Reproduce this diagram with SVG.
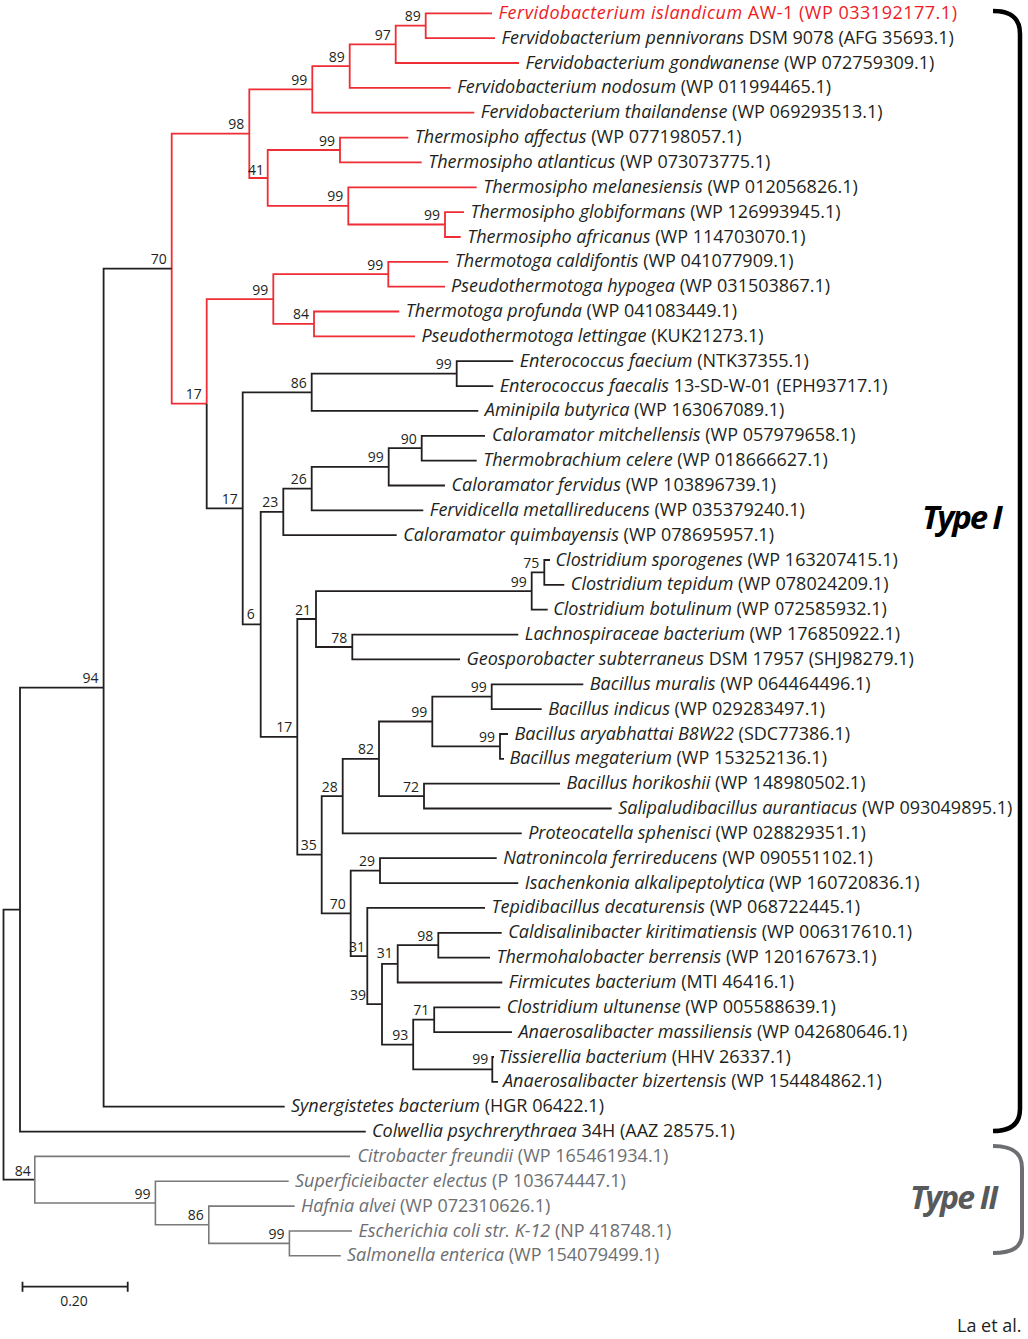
<svg xmlns="http://www.w3.org/2000/svg" width="1028" height="1339" viewBox="0 0 1028 1339">
<style>
text{font-family:"Open Sans","Liberation Sans",sans-serif}
.b{fill:none;stroke:#231f20;stroke-width:1.8}
.r{fill:none;stroke:#ee2d35;stroke-width:1.8}
.g{fill:none;stroke:#7a7a7a;stroke-width:1.6}
.lf{font-size:18px;fill:#231f20}
.lr{fill:#ed1c24}
.lg{fill:#6d6e71}
.i{font-style:italic}
.bs{font-size:14px;fill:#231f20;text-anchor:end}
.ty{font-weight:bold;font-style:italic}
</style>
<rect width="1028" height="1339" fill="#fff"/>
<g id="connectors">
<path class="r" d="M492,13.3H425.7V38.2H495"/>
<path class="r" d="M425.7,25.7H395.7V63H519"/>
<path class="r" d="M395.7,44.4H349.7V87.9H450.7"/>
<path class="r" d="M349.7,66.1H312.3V112.7H474.3"/>
<path class="r" d="M408.3,137.6H340V162.4H421.7"/>
<path class="r" d="M464,212.1H445V237H460.7"/>
<path class="r" d="M476.7,187.3H348.3V224.5H445"/>
<path class="r" d="M340,150H267.7V205.9H348.3"/>
<path class="r" d="M312.3,89.4H249.3V178H267.7"/>
<path class="r" d="M448.3,261.8H388.3V286.7H445"/>
<path class="r" d="M399.3,311.5H314V336.4H415"/>
<path class="r" d="M388.3,274.2H273.3V323.9H314"/>
<path class="r" d="M249.3,133.7H171.7V403.7H206.7"/>
<path class="r" d="M273.3,299.1H206.7V403.7"/>
<path class="b" d="M206.7,403.7V508.3H242.7"/>
<path class="b" d="M513.3,361.2H456.7V386.1H493.3"/>
<path class="b" d="M456.7,373.6H311.7V410.9H478.3"/>
<path class="b" d="M311.7,392.3H242.7V624.4H260.7"/>
<path class="b" d="M485,435.8H421.7V460.6H476.7"/>
<path class="b" d="M421.7,448.2H388.7V485.5H445"/>
<path class="b" d="M388.7,466.8H311.7V510.3H423.3"/>
<path class="b" d="M311.7,488.6H283.3V535.2H396.7"/>
<path class="b" d="M283.3,511.9H260.7V736.9H297.3"/>
<path class="b" d="M550,560H544.3V584.9H564.3"/>
<path class="b" d="M544.3,572.4H531.7V609.7H547.7"/>
<path class="b" d="M518.3,634.6H352.3V659.4H460"/>
<path class="b" d="M531.7,591.1H316V647H352.3"/>
<path class="b" d="M316,619H297.3V854.7H321.7"/>
<path class="b" d="M583.3,684.3H491.7V709.1H541.7"/>
<path class="b" d="M508,734H500V758.8H504"/>
<path class="b" d="M491.7,696.7H432.3V746.4H500"/>
<path class="b" d="M560,783.7H424V808.5H611.7"/>
<path class="b" d="M432.3,721.5H379V796.1H424"/>
<path class="b" d="M379,758.8H342.7V833.4H521.7"/>
<path class="b" d="M496.7,858.2H380V883.1H518.3"/>
<path class="b" d="M501.7,932.8H438.3V957.6H490"/>
<path class="b" d="M438.3,945.2H397.7V982.5H502.3"/>
<path class="b" d="M500.2,1007.3H434.2V1032.2H512"/>
<path class="b" d="M494,1057H492.3V1081.9H498"/>
<path class="b" d="M434.2,1019.7H413.2V1069.4H492.3"/>
<path class="b" d="M397.7,963.8H382V1044.6H413.2"/>
<path class="b" d="M485,907.9H367.3V1004.2H382"/>
<path class="b" d="M380,870.6H350.7V956.1H367.3"/>
<path class="b" d="M342.7,796.1H321.7V913.3H350.7"/>
<path class="b" d="M171.7,268.7H103.6V1106.7H284.7"/>
<path class="b" d="M103.6,687.7H20V1131.6H365.8"/>
<path class="b" d="M20,909.6H3.5V1179.7H34.8"/>
<path class="g" d="M352,1231H289.4V1255.8H340.8"/>
<path class="g" d="M294.6,1206.1H208.8V1243.4H289.4"/>
<path class="g" d="M288.7,1181.3H155.4V1224.7H208.8"/>
<path class="g" d="M350,1156.4H34.8V1203H155.4"/>
</g>
<g id="bootstrap">
<text class="bs" x="420.7" y="21.2">89</text>
<text class="bs" x="390.7" y="39.9">97</text>
<text class="bs" x="344.7" y="61.6">89</text>
<text class="bs" x="307.3" y="84.9">99</text>
<text class="bs" x="244.3" y="129.2">98</text>
<text class="bs" x="335" y="145.5">99</text>
<text class="bs" x="264" y="174.5">41</text>
<text class="bs" x="343.3" y="201.4">99</text>
<text class="bs" x="440" y="220">99</text>
<text class="bs" x="166.7" y="264.2">70</text>
<text class="bs" x="383.3" y="269.7">99</text>
<text class="bs" x="268.3" y="294.6">99</text>
<text class="bs" x="309" y="319.4">84</text>
<text class="bs" x="201.7" y="399.2">17</text>
<text class="bs" x="451.7" y="369.1">99</text>
<text class="bs" x="306.7" y="387.8">86</text>
<text class="bs" x="416.7" y="443.7">90</text>
<text class="bs" x="383.7" y="462.3">99</text>
<text class="bs" x="306.7" y="484.1">26</text>
<text class="bs" x="237.7" y="503.8">17</text>
<text class="bs" x="278.3" y="507.4">23</text>
<text class="bs" x="539.3" y="567.9">75</text>
<text class="bs" x="526.7" y="586.6">99</text>
<text class="bs" x="311" y="614.5">21</text>
<text class="bs" x="254.7" y="618.9">6</text>
<text class="bs" x="347.3" y="642.5">78</text>
<text class="bs" x="486.7" y="692.2">99</text>
<text class="bs" x="427.3" y="717">99</text>
<text class="bs" x="495" y="741.9">99</text>
<text class="bs" x="292.3" y="732.4">17</text>
<text class="bs" x="374" y="754.3">82</text>
<text class="bs" x="337.7" y="791.6">28</text>
<text class="bs" x="419" y="791.6">72</text>
<text class="bs" x="316.7" y="850.2">35</text>
<text class="bs" x="375" y="866.1">29</text>
<text class="bs" x="345.7" y="908.8">70</text>
<text class="bs" x="433.3" y="940.7">98</text>
<text class="bs" x="365" y="952">31</text>
<text class="bs" x="392.7" y="958.3">31</text>
<text class="bs" x="366" y="1000">39</text>
<text class="bs" x="429.2" y="1015.2">71</text>
<text class="bs" x="408.2" y="1040.1">93</text>
<text class="bs" x="488.3" y="1063.9">99</text>
<text class="bs" x="98.6" y="683.2">94</text>
<text class="bs" x="30.8" y="1175.7">84</text>
<text class="bs" x="150.4" y="1198.5">99</text>
<text class="bs" x="203.8" y="1220.2">86</text>
<text class="bs" x="284.4" y="1238.9">99</text>
</g>
<g id="leaves">
<g id="leaf0"><text class="lf lr" x="498.5" y="18.8" letter-spacing="0.5"><tspan class="i">Fervidobacterium islandicum</tspan> AW-1 (WP 033192177.1)</text></g>
<g id="leaf1"><text class="lf" x="501.5" y="43.7"><tspan class="i">Fervidobacterium pennivorans</tspan> DSM 9078 (AFG 35693.1)</text></g>
<g id="leaf2"><text class="lf" x="525.5" y="68.5"><tspan class="i">Fervidobacterium gondwanense</tspan> (WP 072759309.1)</text></g>
<g id="leaf3"><text class="lf" x="457.2" y="93.4"><tspan class="i">Fervidobacterium nodosum</tspan> (WP 011994465.1)</text></g>
<g id="leaf4"><text class="lf" x="480.8" y="118.2"><tspan class="i">Fervidobacterium thailandense</tspan> (WP 069293513.1)</text></g>
<g id="leaf5"><text class="lf" x="414.8" y="143.1"><tspan class="i">Thermosipho affectus</tspan> (WP 077198057.1)</text></g>
<g id="leaf6"><text class="lf" x="428.2" y="167.9"><tspan class="i">Thermosipho atlanticus</tspan> (WP 073073775.1)</text></g>
<g id="leaf7"><text class="lf" x="483.2" y="192.8"><tspan class="i">Thermosipho melanesiensis</tspan> (WP 012056826.1)</text></g>
<g id="leaf8"><text class="lf" x="470.5" y="217.6"><tspan class="i">Thermosipho globiformans</tspan> (WP 126993945.1)</text></g>
<g id="leaf9"><text class="lf" x="467.2" y="242.5"><tspan class="i">Thermosipho africanus</tspan> (WP 114703070.1)</text></g>
<g id="leaf10"><text class="lf" x="454.8" y="267.3"><tspan class="i">Thermotoga caldifontis</tspan> (WP 041077909.1)</text></g>
<g id="leaf11"><text class="lf" x="451" y="292.2"><tspan class="i">Pseudothermotoga hypogea</tspan> (WP 031503867.1)</text></g>
<g id="leaf12"><text class="lf" x="405.8" y="317"><tspan class="i">Thermotoga profunda</tspan> (WP 041083449.1)</text></g>
<g id="leaf13"><text class="lf" x="421.5" y="341.9"><tspan class="i">Pseudothermotoga lettingae</tspan> (KUK21273.1)</text></g>
<g id="leaf14"><text class="lf" x="519.8" y="366.7"><tspan class="i">Enterococcus faecium</tspan> (NTK37355.1)</text></g>
<g id="leaf15"><text class="lf" x="499.8" y="391.6"><tspan class="i">Enterococcus faecalis</tspan> 13-SD-W-01 (EPH93717.1)</text></g>
<g id="leaf16"><text class="lf" x="484.8" y="416.4"><tspan class="i">Aminipila butyrica</tspan> (WP 163067089.1)</text></g>
<g id="leaf17"><text class="lf" x="492" y="441.3"><tspan class="i">Caloramator mitchellensis</tspan> (WP 057979658.1)</text></g>
<g id="leaf18"><text class="lf" x="483.2" y="466.1"><tspan class="i">Thermobrachium celere</tspan> (WP 018666627.1)</text></g>
<g id="leaf19"><text class="lf" x="451.5" y="491"><tspan class="i">Caloramator fervidus</tspan> (WP 103896739.1)</text></g>
<g id="leaf20"><text class="lf" x="429.8" y="515.8"><tspan class="i">Fervidicella metallireducens</tspan> (WP 035379240.1)</text></g>
<g id="leaf21"><text class="lf" x="403.2" y="540.7"><tspan class="i">Caloramator quimbayensis</tspan> (WP 078695957.1)</text></g>
<g id="leaf22"><text class="lf" x="555.5" y="565.5"><tspan class="i">Clostridium sporogenes</tspan> (WP 163207415.1)</text></g>
<g id="leaf23"><text class="lf" x="570.8" y="590.4"><tspan class="i">Clostridium tepidum</tspan> (WP 078024209.1)</text></g>
<g id="leaf24"><text class="lf" x="553.2" y="615.2"><tspan class="i">Clostridium botulinum</tspan> (WP 072585932.1)</text></g>
<g id="leaf25"><text class="lf" x="524.8" y="640.1"><tspan class="i">Lachnospiraceae bacterium</tspan> (WP 176850922.1)</text></g>
<g id="leaf26"><text class="lf" x="466.5" y="664.9"><tspan class="i">Geosporobacter subterraneus</tspan> DSM 17957 (SHJ98279.1)</text></g>
<g id="leaf27"><text class="lf" x="589.8" y="689.8"><tspan class="i">Bacillus muralis</tspan> (WP 064464496.1)</text></g>
<g id="leaf28"><text class="lf" x="548.2" y="714.6"><tspan class="i">Bacillus indicus</tspan> (WP 029283497.1)</text></g>
<g id="leaf29"><text class="lf" x="514.5" y="739.5"><tspan class="i">Bacillus aryabhattai B8W22</tspan> (SDC77386.1)</text></g>
<g id="leaf30"><text class="lf" x="509.5" y="764.3"><tspan class="i">Bacillus megaterium</tspan> (WP 153252136.1)</text></g>
<g id="leaf31"><text class="lf" x="566.5" y="789.2"><tspan class="i">Bacillus horikoshii</tspan> (WP 148980502.1)</text></g>
<g id="leaf32"><text class="lf" x="618.2" y="814"><tspan class="i">Salipaludibacillus aurantiacus</tspan> (WP 093049895.1)</text></g>
<g id="leaf33"><text class="lf" x="528.2" y="838.9"><tspan class="i">Proteocatella sphenisci</tspan> (WP 028829351.1)</text></g>
<g id="leaf34"><text class="lf" x="503.2" y="863.7"><tspan class="i">Natronincola ferrireducens</tspan> (WP 090551102.1)</text></g>
<g id="leaf35"><text class="lf" x="524.8" y="888.6"><tspan class="i">Isachenkonia alkalipeptolytica</tspan> (WP 160720836.1)</text></g>
<g id="leaf36"><text class="lf" x="491.5" y="913.4"><tspan class="i">Tepidibacillus decaturensis</tspan> (WP 068722445.1)</text></g>
<g id="leaf37"><text class="lf" x="508.2" y="938.3"><tspan class="i">Caldisalinibacter kiritimatiensis</tspan> (WP 006317610.1)</text></g>
<g id="leaf38"><text class="lf" x="496.5" y="963.1"><tspan class="i">Thermohalobacter berrensis</tspan> (WP 120167673.1)</text></g>
<g id="leaf39"><text class="lf" x="508.8" y="988"><tspan class="i">Firmicutes bacterium</tspan> (MTI 46416.1)</text></g>
<g id="leaf40"><text class="lf" x="506.7" y="1012.8"><tspan class="i">Clostridium ultunense</tspan> (WP 005588639.1)</text></g>
<g id="leaf41"><text class="lf" x="518.5" y="1037.7"><tspan class="i">Anaerosalibacter massiliensis</tspan> (WP 042680646.1)</text></g>
<g id="leaf42"><text class="lf" x="498.5" y="1062.5"><tspan class="i">Tissierellia bacterium</tspan> (HHV 26337.1)</text></g>
<g id="leaf43"><text class="lf" x="503" y="1087.4"><tspan class="i">Anaerosalibacter bizertensis</tspan> (WP 154484862.1)</text></g>
<g id="leaf44"><text class="lf" x="291" y="1112.2"><tspan class="i">Synergistetes bacterium</tspan> (HGR 06422.1)</text></g>
<g id="leaf45"><text class="lf" x="372" y="1137.1"><tspan class="i">Colwellia psychrerythraea</tspan> 34H (AAZ 28575.1)</text></g>
<g id="leaf46"><text class="lf lg" x="357.5" y="1161.9"><tspan class="i">Citrobacter freundii</tspan> (WP 165461934.1)</text></g>
<g id="leaf47"><text class="lf lg" x="295" y="1186.8"><tspan class="i">Superficieibacter electus</tspan> (P 103674447.1)</text></g>
<g id="leaf48"><text class="lf lg" x="301" y="1211.6"><tspan class="i">Hafnia alvei</tspan> (WP 072310626.1)</text></g>
<g id="leaf49"><text class="lf lg" x="358.5" y="1236.5"><tspan class="i">Escherichia coli str. K-12</tspan> (NP 418748.1)</text></g>
<g id="leaf50"><text class="lf lg" x="347" y="1261.3"><tspan class="i">Salmonella enterica</tspan> (WP 154079499.1)</text></g>
</g>
<g id="typeI">
<path d="M993,11C1011,11 1020,18 1020,34V1109C1020,1124 1011,1131 993,1131" fill="none" stroke="#000" stroke-width="4.5"/>
<text class="ty" x="922" y="529" font-size="33" letter-spacing="-2.2" fill="#000">Type I</text>
</g>
<g id="typeII">
<path d="M993,1146C1013,1146 1022,1153 1022,1168V1233C1022,1247 1013,1253 993,1253" fill="none" stroke="#6d6e71" stroke-width="4"/>
<text class="ty" x="910" y="1209" font-size="32" letter-spacing="-1.8" fill="#58595b">Type II</text>
</g>
<g id="scalebar">
<path d="M22.5,1286.7H127.7M22.5,1281.7V1291.7M127.7,1281.7V1291.7" class="b"/>
<text x="74" y="1305.5" font-size="14" text-anchor="middle" fill="#231f20">0.20</text>
</g>
<text x="957" y="1332" font-size="18" fill="#231f20">La et al.</text>
</svg>
